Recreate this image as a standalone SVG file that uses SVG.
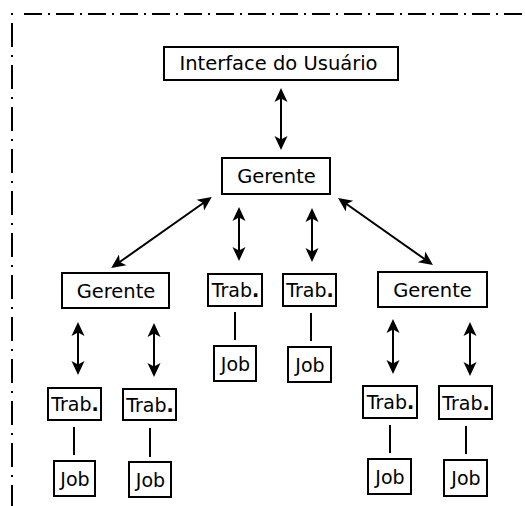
<svg xmlns="http://www.w3.org/2000/svg" width="525" height="506" viewBox="0 0 525 506">
  <style>
    .box rect { fill: #fff; stroke: #000; stroke-width: 2; }
    .box text { font-family: "DejaVu Sans", "Liberation Sans", sans-serif; font-size: 19px; fill: #000; text-anchor: middle; }
    .box text.big { font-size: 19.5px; }
    .dot { font-weight: bold; }
    .frame { fill: none; stroke: #000; stroke-width: 2; }
    #connectors line { stroke: #000; stroke-width: 2; }
    #connectors .arrow { marker-start: url(#head); marker-end: url(#head); }
  </style>
  <defs>
    <marker id="head" markerUnits="userSpaceOnUse" markerWidth="20" markerHeight="20" refX="0" refY="0" orient="auto-start-reverse" overflow="visible">
      <path d="M9,0 L-5,-6.5 L-1.5,0 L-5,6.5 Z" fill="#000"/>
    </marker>
  </defs>

  <!-- dash-dot frame -->
  <g id="frame">
    <path class="frame" d="M24,14 H525" stroke-dasharray="18 6 2 6"/>
    <path class="frame" d="M12,13 V506" stroke-dasharray="2 8 24 8"/>
  </g>

  <!-- connectors: double arrows stop short of each tip (marker supplies the rest) -->
  <g id="connectors">
    <line class="arrow" x1="281" y1="97" x2="281" y2="141"/>
    <line class="arrow" x1="204.4" y1="202.2" x2="118.6" y2="262.8"/>
    <line class="arrow" x1="239" y1="216" x2="239" y2="252"/>
    <line class="arrow" x1="312" y1="217" x2="312" y2="253"/>
    <line class="arrow" x1="345.4" y1="203.2" x2="425.6" y2="259.8"/>
    <line class="arrow" x1="78" y1="331" x2="78" y2="366"/>
    <line class="arrow" x1="154" y1="332" x2="154" y2="368"/>
    <line class="arrow" x1="393" y1="328" x2="393" y2="365"/>
    <line class="arrow" x1="470" y1="331" x2="470" y2="367"/>

    <line x1="235" y1="312" x2="235" y2="340"/>
    <line x1="311" y1="313" x2="311" y2="341"/>
    <line x1="74" y1="427" x2="74" y2="455"/>
    <line x1="150" y1="428" x2="150" y2="457"/>
    <line x1="390" y1="425" x2="390" y2="453"/>
    <line x1="466" y1="426" x2="466" y2="454"/>
  </g>

  <g id="ui" class="box">
    <rect x="164" y="47" width="234" height="33"/>
    <text class="big" x="278.5" y="69.5">Interface do Usuário</text>
  </g>
  <g id="gerente-main" class="box">
    <rect x="222" y="158" width="108" height="36"/>
    <text class="big" x="276.5" y="183">Gerente</text>
  </g>
  <g id="gerente-left" class="box">
    <rect x="62" y="273" width="107" height="35"/>
    <text class="big" x="116" y="297.5">Gerente</text>
  </g>
  <g id="gerente-right" class="box">
    <rect x="378" y="272" width="109" height="35"/>
    <text class="big" x="432.5" y="296.5">Gerente</text>
  </g>

  <g id="trab-m1" class="box">
    <rect x="208" y="274" width="54" height="32"/>
    <text x="235.5" y="297">Trab<tspan class="dot">.</tspan></text>
  </g>
  <g id="trab-m2" class="box">
    <rect x="283" y="274" width="53" height="32"/>
    <text x="310" y="297">Trab<tspan class="dot">.</tspan></text>
  </g>
  <g id="job-m1" class="box">
    <rect x="214" y="346" width="42" height="35"/>
    <text x="235.5" y="370.5">Job</text>
  </g>
  <g id="job-m2" class="box">
    <rect x="288" y="347" width="43" height="35"/>
    <text x="310" y="371.5">Job</text>
  </g>

  <g id="trab-l1" class="box">
    <rect x="48" y="388" width="53" height="32"/>
    <text x="75" y="411">Trab<tspan class="dot">.</tspan></text>
  </g>
  <g id="trab-l2" class="box">
    <rect x="123" y="389" width="53" height="31"/>
    <text x="150" y="411.5">Trab<tspan class="dot">.</tspan></text>
  </g>
  <g id="job-l1" class="box">
    <rect x="54" y="461" width="41" height="35"/>
    <text x="75" y="485.5">Job</text>
  </g>
  <g id="job-l2" class="box">
    <rect x="129" y="462" width="42" height="35"/>
    <text x="150.5" y="486.5">Job</text>
  </g>

  <g id="trab-r1" class="box">
    <rect x="363" y="386" width="54" height="32"/>
    <text x="390.5" y="409">Trab<tspan class="dot">.</tspan></text>
  </g>
  <g id="trab-r2" class="box">
    <rect x="439" y="386" width="53" height="33"/>
    <text x="466" y="409.5">Trab<tspan class="dot">.</tspan></text>
  </g>
  <g id="job-r1" class="box">
    <rect x="368" y="459" width="43" height="35"/>
    <text x="390" y="483.5">Job</text>
  </g>
  <g id="job-r2" class="box">
    <rect x="444" y="460" width="43" height="36"/>
    <text x="466" y="485">Job</text>
  </g>
</svg>
